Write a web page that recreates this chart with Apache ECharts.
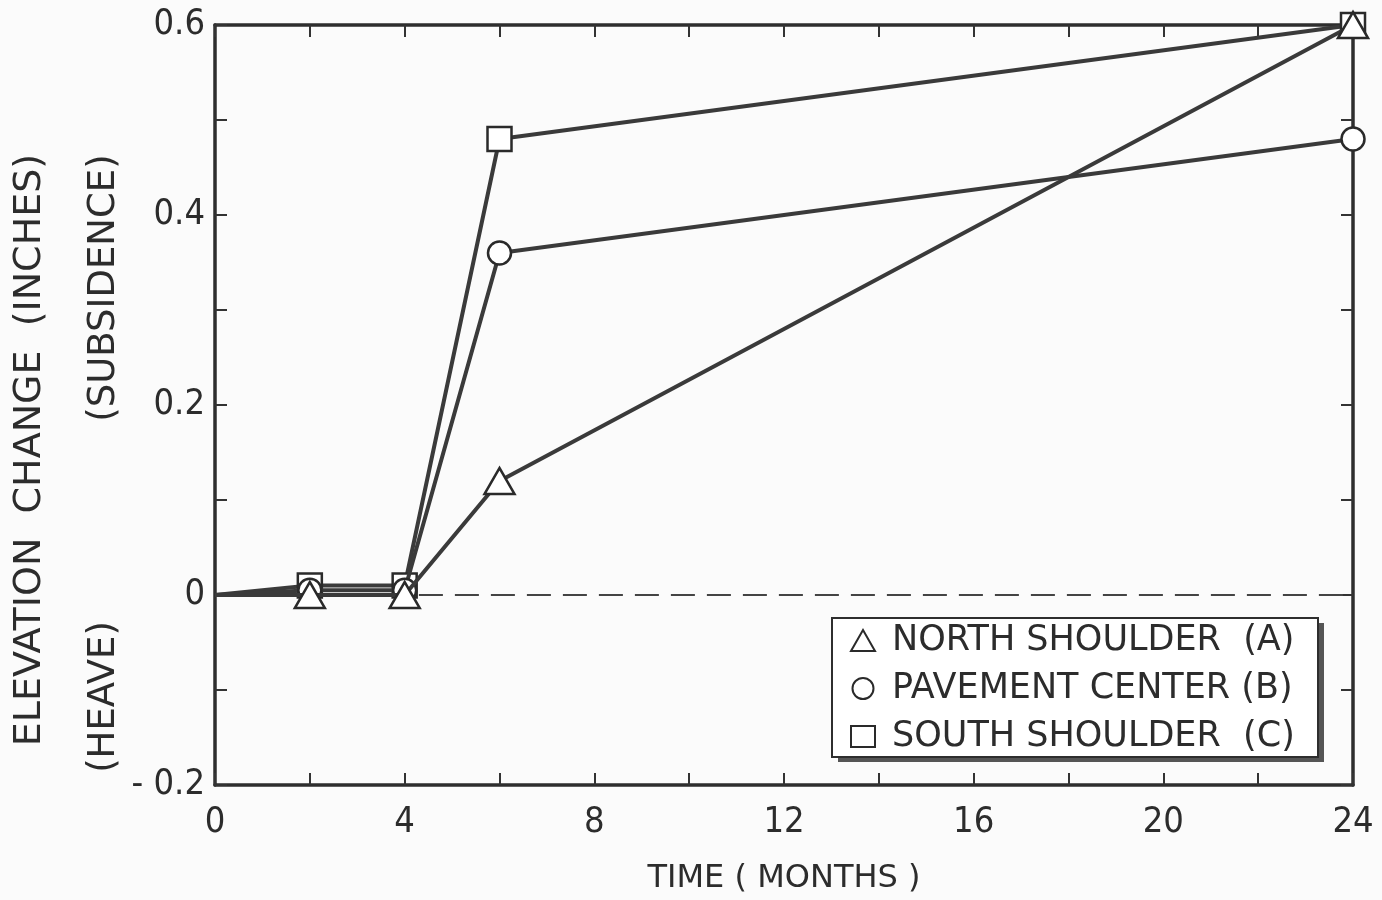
<!DOCTYPE html>
<html><head><meta charset="utf-8">
<script src="https://cdn.jsdelivr.net/npm/echarts@6/dist/echarts.min.js"></script>
<style>html,body{margin:0;padding:0;background:#fbfbfb}#c{width:1382px;height:900px}</style>
</head><body><div id="c"></div>
<script>
const months = [0, 2, 4, 6, 24];
const northShoulder = [0, 0, 0, 0.12, 0.6];
const pavementCenter = [0, 0.005, 0.005, 0.36, 0.48];
const southShoulder = [0, 0.01, 0.01, 0.48, 0.6];
const seriesNames = ['NORTH SHOULDER  (A)', 'PAVEMENT CENTER (B)', 'SOUTH SHOULDER  (C)'];
const seriesSymbols = ['triangle', 'circle', 'rect'];
const zeroLineFrom = 4.3, zeroLineTo = 24;
const xTickLabels = ['0', '4', '8', '12', '16', '20', '24'];
const yTickLabels = ['-0.2', '0', '0.2', '0.4', '0.6'];

const ink = '#2c2c2c';
const NARROW = "'DejaVu Sans Condensed','Liberation Sans Narrow',sans-serif";
const WIDE = "'DejaVu Sans','Liberation Sans',sans-serif";
function pts(vals) {
  return months.map((m, i) => i === 0 ? { value: [m, vals[i]], symbol: 'none' } : { value: [m, vals[i]] });
}
const symSize = { triangle: [30, 26], circle: 23, rect: 24 };
function mk(idx, vals) {
  return {
    name: seriesNames[idx], type: 'line', data: pts(vals),
    symbol: seriesSymbols[idx], symbolSize: symSize[seriesSymbols[idx]],
    lineStyle: { color: '#3a3a3a', width: 4 },
    itemStyle: { color: '#fff', borderColor: '#2a2a2a', borderWidth: 2.5 },
    emphasis: { disabled: true }, animation: false, z: 5 - idx
  };
}
const series = [mk(2, southShoulder), mk(1, pavementCenter), mk(0, northShoulder)];
series[0].markLine = {
  silent: true, symbol: 'none', label: { show: false },
  lineStyle: { color: '#444', type: [24, 12], width: 2 },
  data: [[{ coord: [zeroLineFrom, 0] }, { coord: [zeroLineTo, 0] }]]
};
const chart = echarts.init(document.getElementById('c'));
const axisCommon = {
  axisLine: { show: true, onZero: false, lineStyle: { color: '#2e2e2e', width: 3.5 } },
  axisTick: { show: true, inside: true, length: 12, lineStyle: { color: '#333', width: 2 } },
  splitLine: { show: false }
};
chart.setOption({
  backgroundColor: '#fbfbfb',
  animation: false,
  grid: { left: 215, right: 29, top: 25, bottom: 112 },
  legend: {
    orient: 'vertical', left: 838, top: 619,
    data: seriesNames.map((n, i) => ({ name: n, icon: i === 0 ? 'triangle' : (i === 1 ? 'circle' : 'rect') })),
    itemWidth: 24, itemHeight: 21, itemGap: 13,
    padding: [4, 8, 4, 12],
    itemStyle: { color: 'transparent', borderColor: '#2a2a2a', borderWidth: 2 },
    lineStyle: { opacity: 0 },
    textStyle: { color: ink, fontSize: 35, fontFamily: WIDE, padding: [0, 0, 0, 12] },
    selectedMode: false, z: 10
  },
  xAxis: [
    Object.assign({}, axisCommon, {
      type: 'value', min: 0, max: 24, interval: 2,
      axisLabel: { color: ink, fontSize: 36, fontFamily: NARROW, margin: 20,
        formatter: v => xTickLabels.indexOf(String(v)) >= 0 ? String(v) : '' },
      name: 'TIME ( MONTHS )', nameLocation: 'middle', nameGap: 78,
      nameTextStyle: { color: ink, fontSize: 32, fontFamily: WIDE }
    }),
    Object.assign({}, axisCommon, {
      type: 'value', min: 0, max: 24, interval: 2, position: 'top',
      axisLabel: { show: false }
    })
  ],
  yAxis: [
    Object.assign({}, axisCommon, {
      type: 'value', min: -0.2, max: 0.6, interval: 0.1,
      axisLabel: { color: ink, fontSize: 36, fontFamily: NARROW, margin: 10,
        formatter: v => { const s = Math.abs(v) < 1e-9 ? '0' : (Math.round(v * 10) / 10).toFixed(1); return yTickLabels.indexOf(s) >= 0 ? (s === '-0.2' ? '- 0.2' : s) : ''; } }
    }),
    Object.assign({}, axisCommon, {
      type: 'value', min: -0.2, max: 0.6, interval: 0.1, position: 'right',
      axisLabel: { show: false }
    })
  ],
  graphic: [
    { type: 'rect', z: 5, shape: { x: 838, y: 623, width: 486, height: 139 }, style: { fill: '#555' } },
    { type: 'rect', z: 6, shape: { x: 832, y: 618, width: 486, height: 139 }, style: { fill: '#fff', stroke: '#2e2e2e', lineWidth: 2 } },
    { type: 'text', x: 30, y: 450, rotation: Math.PI / 2, style: { text: 'ELEVATION  CHANGE  (INCHES)', fill: ink, font: '38px ' + WIDE, align: 'center', verticalAlign: 'middle' } },
    { type: 'text', x: 104, y: 288, rotation: Math.PI / 2, style: { text: '(SUBSIDENCE)', fill: ink, font: '37px ' + WIDE, align: 'center', verticalAlign: 'middle' } },
    { type: 'text', x: 104, y: 697, rotation: Math.PI / 2, style: { text: '(HEAVE)', fill: ink, font: '37px ' + WIDE, align: 'center', verticalAlign: 'middle' } }
  ],
  series: series
});
</script></body></html>
